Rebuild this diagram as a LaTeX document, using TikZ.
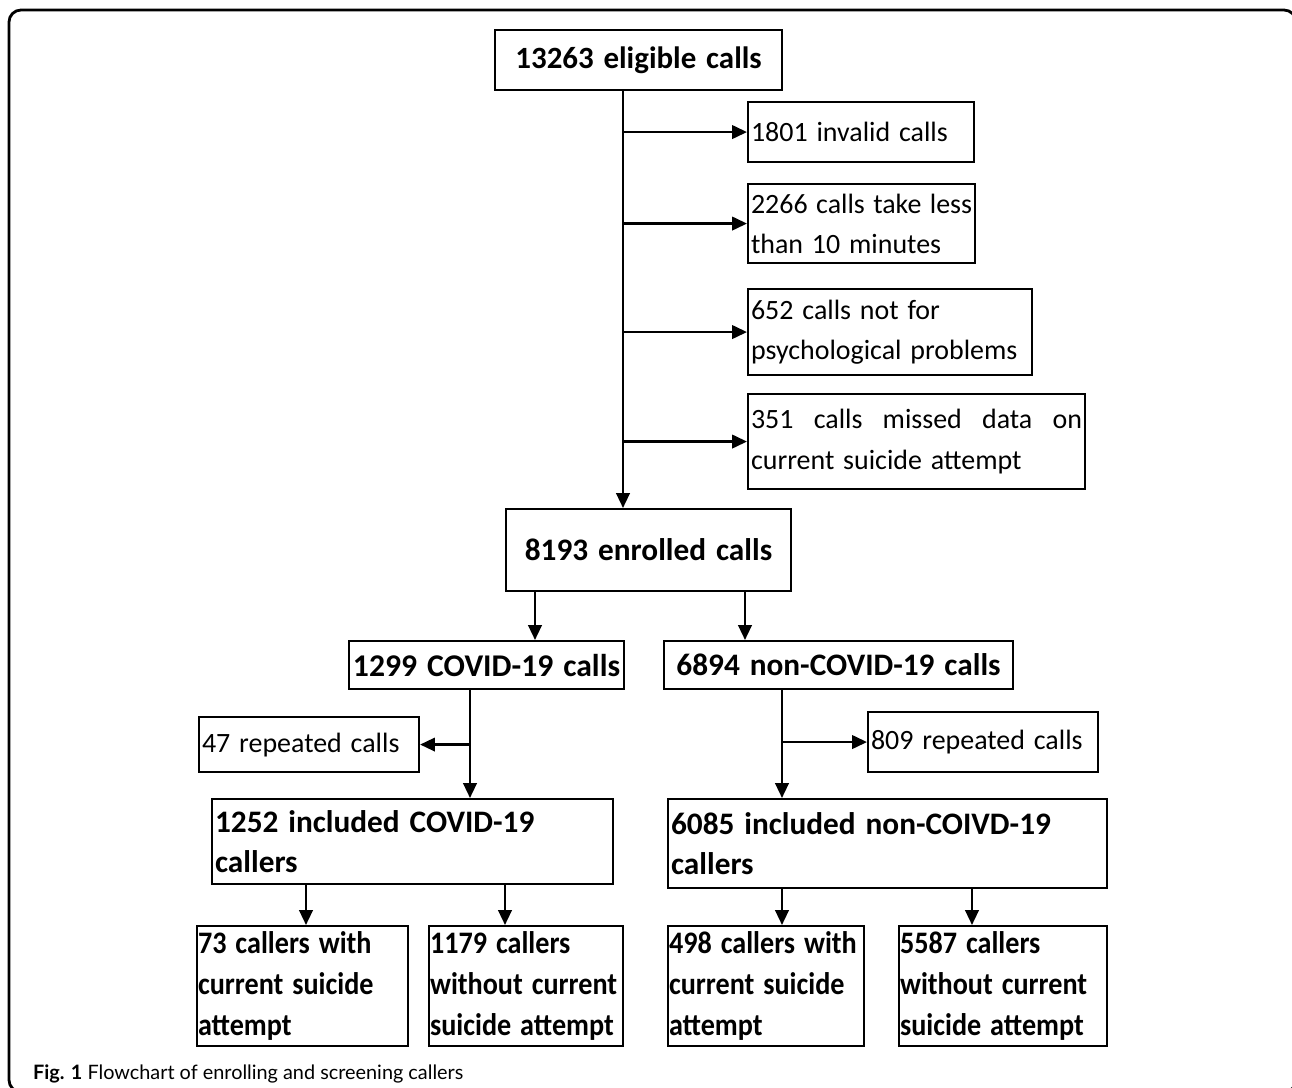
\documentclass[tikz,border=0pt]{standalone}
\usepackage{fontspec}
\setmainfont{Carlito}[WordSpace=1.4]
\newfontfamily\condfont{Carlito}[FakeStretch=0.9, WordSpace=1.4]
\newfontfamily\capfont{Lato}
\usetikzlibrary{arrows.meta}

\newcommand{\nohyph}{\hyphenpenalty=10000\exhyphenpenalty=10000}

\begin{document}
\begin{tikzpicture}[line width=0.6pt,
		box/.style={draw, anchor=north west, inner xsep=0.03cm, inner ysep=0pt, align=flush left, font=\fontsize{7.95}{11.4}\selectfont\nohyph},
		bbox/.style={box, font=\fontsize{8.9}{11.4}\selectfont\bfseries\nohyph},
		cbox/.style={bbox, align=center},
		sbox/.style={box, inner xsep=0.01cm, minimum height=1.20cm, font=\condfont\fontsize{8.9}{11.7}\selectfont\bfseries\nohyph},
		arr/.style={line width=0.7pt, -{Triangle[length=4.2pt,width=3.8pt]}}]
		\useasboundingbox (0,0) rectangle (12.92,-10.88);
		\clip (0,0) rectangle (12.92,-10.88);
		\draw[line width=0.8pt, rounded corners=0.12cm] (0.09,-10.92) rectangle (12.96,-0.10);

		% screening of the eligible calls
		\node[cbox, font=\fontsize{8.8}{11.4}\selectfont\bfseries, minimum width=2.87cm, minimum height=0.60cm] (elig) at (4.94,-0.29) {13263 eligible calls};
		\node[box, text width=2.20cm, minimum height=0.60cm] (inval) at (7.47,-1.01) {1801 invalid calls};
		\node[box, text width=2.21cm, minimum height=0.79cm] (short) at (7.47,-1.83) {2266 calls take less\\than 10 minutes};
		\node[box, text width=2.78cm, minimum height=0.86cm] (nopsy) at (7.47,-2.88) {652 calls not for\\psychological problems};
		\node[box, align=justify, text width=3.31cm, minimum height=0.95cm] (miss) at (7.47,-3.93) {351 calls missed data on current suicide attempt};
		\node[cbox, minimum width=2.85cm, minimum height=0.82cm] (enrol) at (5.05,-5.08) {8193 enrolled calls};

		% split by topic
		\node[cbox, font=\fontsize{9.0}{11.4}\selectfont\bfseries, minimum width=2.75cm, minimum height=0.48cm] (covid) at (3.48,-6.40) {1299 COVID-19 calls};
		\node[cbox, font=\fontsize{8.9}{11.4}\selectfont\bfseries, minimum width=3.49cm, minimum height=0.48cm] (noncov) at (6.63,-6.40) {6894 non-COVID-19 calls};
		\node[box, text width=2.14cm, minimum height=0.55cm] (rep1) at (1.98,-7.16) {47 repeated calls};
		\node[box, text width=2.24cm, minimum height=0.60cm] (rep2) at (8.67,-7.11) {809 repeated calls};
		\node[bbox, text width=3.95cm, minimum height=0.85cm] (incc) at (2.11,-7.98) {1252 included COVID-19\\callers};
		\node[bbox, text width=4.33cm, minimum height=0.89cm] (incn) at (6.67,-7.98) {6085 included non-COIVD-19\\callers};

		% suicide attempt
		\node[sbox, text width=2.09cm] (c1) at (1.96,-9.25) {73 callers with\\current suicide\\attempt};
		\node[sbox, text width=1.92cm] (c2) at (4.28,-9.25) {1179 callers\\without current\\suicide attempt};
		\node[sbox, text width=1.94cm] (c3) at (6.67,-9.25) {498 callers with\\current suicide\\attempt};
		\node[sbox, text width=2.06cm] (c4) at (8.98,-9.25) {5587 callers\\without current\\suicide attempt};

		\node[anchor=base west, inner sep=0pt, font=\capfont\fontsize{5.65}{6}\selectfont] (cap) at (0.32,-10.79) {\textbf{Fig. 1} Flowchart of enrolling and screening callers};

		\coordinate (t) at (6.23,0);
		\draw[arr] (elig.south -| t) -- (enrol.north -| t);
		\foreach \n in {inval,short,nopsy,miss}
			\draw[arr] (\n.west -| t) -- (\n.west);

		\coordinate (a1) at (5.35,0);
		\coordinate (a2) at (7.45,0);
		\draw[arr] (enrol.south -| a1) -- (covid.north -| a1);
		\draw[arr] (enrol.south -| a2) -- (noncov.north -| a2);

		\coordinate (b1) at (4.70,0);
		\coordinate (b2) at (7.82,0);
		\draw[arr] (covid.south -| b1) -- (incc.north -| b1);
		\draw[arr] (rep1.east -| b1) -- (rep1.east);
		\draw[arr] (noncov.south -| b2) -- (incn.north -| b2);
		\draw[arr] (rep2.west -| b2) -- (rep2.west);

		\foreach \s/\x/\d in {incc/3.06/c1, incc/5.05/c2, incn/7.82/c3, incn/9.72/c4}
			\draw[arr] (\s.south -| \x,0) -- (\d.north -| \x,0);
\end{tikzpicture}
\end{document}
